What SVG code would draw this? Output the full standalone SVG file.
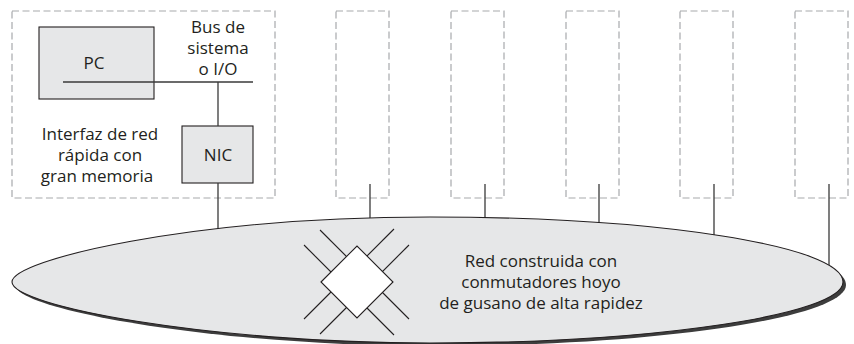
<svg xmlns="http://www.w3.org/2000/svg" width="854" height="344" viewBox="0 0 854 344">
<style>
.t{font-family:"Open Sans","Liberation Sans",sans-serif;font-size:17px;fill:#231f20;text-anchor:middle}
.dash{fill:none;stroke:#a7a9ac;stroke-width:1.2;stroke-dasharray:7 3.5}
.box{fill:#e6e7e8;stroke:#231f20;stroke-width:1.1}
.ln{stroke:#3a3a3a;stroke-width:1.3;fill:none}
.sw{stroke:#231f20;stroke-width:1.1;fill:none}
</style>
<defs>
<path id="blob" d="M12,282 C12,260 190,217 430,217 C659,217 843,246 843,282 C843,314 659,343 430,343 C210,343 12,306 12,282 Z"/>
</defs>
<g id="host1">
<rect class="dash" x="12" y="11" width="263" height="187"/>
<g id="pc">
<rect class="box" x="39" y="27" width="115" height="72"/>
<text class="t" x="94" y="69">PC</text>
</g>
<text class="t"><tspan x="218" y="33">Bus de</tspan><tspan x="218" y="54">sistema</tspan><tspan x="218" y="75">o I/O</tspan></text>
<g id="nic">
<rect class="box" x="182" y="126" width="71" height="57"/>
<text class="t" x="218" y="161">NIC</text>
</g>
<text class="t"><tspan x="100" y="140">Interfaz de red</tspan><tspan x="100" y="161">rápida con</tspan><tspan x="97" y="182">gran memoria</tspan></text>
</g>
<g id="host2"><rect class="dash" x="336" y="11" width="53" height="187"/></g>
<g id="host3"><rect class="dash" x="451" y="11" width="53" height="187"/></g>
<g id="host4"><rect class="dash" x="566" y="11" width="53" height="187"/></g>
<g id="host5"><rect class="dash" x="680" y="11" width="53" height="187"/></g>
<g id="host6"><rect class="dash" x="795" y="11" width="53" height="187"/></g>
<g id="connectors">
<line class="ln" x1="63" y1="82" x2="253" y2="82" stroke-width="1.8"/>
<line class="ln" x1="218" y1="82" x2="218" y2="126"/>
<line class="ln" x1="218" y1="183" x2="218" y2="240"/>
<line class="ln" x1="370" y1="184" x2="370" y2="240"/>
<line class="ln" x1="485" y1="184" x2="485" y2="240"/>
<line class="ln" x1="599" y1="184" x2="599" y2="240"/>
<line class="ln" x1="714" y1="184" x2="714" y2="250"/>
<line class="ln" x1="829" y1="184" x2="829" y2="280"/>
</g>
<g id="network">
<use href="#blob" transform="translate(3,3)" fill="#3d3d3d"/>
<use href="#blob" fill="#e6e7e8" stroke="#231f20" stroke-width="1.1"/>
<g id="switch">
<line class="sw" x1="320" y1="230" x2="409" y2="319"/>
<line class="sw" x1="304" y1="245" x2="394" y2="335"/>
<line class="sw" x1="394" y1="229" x2="304" y2="319"/>
<line class="sw" x1="409" y1="245" x2="320" y2="334"/>
<polygon points="321,282 357,246 393,282 357,318" fill="#fff" stroke="#231f20" stroke-width="1.1"/>
</g>
<text class="t"><tspan x="541" y="267">Red construida con</tspan><tspan x="541" y="288">conmutadores hoyo</tspan><tspan x="541" y="309">de gusano de alta rapidez</tspan></text>
</g>
</svg>
